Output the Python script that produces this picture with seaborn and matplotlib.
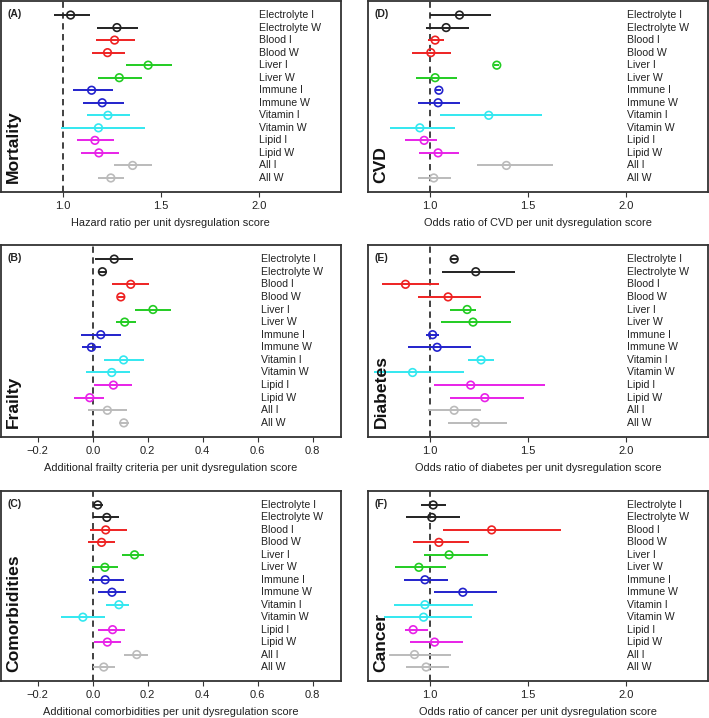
import numpy as np
import pandas as pd
import matplotlib
matplotlib.use("Agg")
import matplotlib.pyplot as plt
import seaborn as sns

categories = ["Electrolyte I", "Electrolyte W", "Blood I", "Blood W", "Liver I", "Liver W",
              "Immune I", "Immune W", "Vitamin I", "Vitamin W", "Lipid I", "Lipid W",
              "All I", "All W"]
groups = ["Electrolyte", "Electrolyte", "Blood", "Blood", "Liver", "Liver", "Immune", "Immune",
          "Vitamin", "Vitamin", "Lipid", "Lipid", "All", "All"]

# (A) Mortality
mort_est = [1.041, 1.277, 1.265, 1.229, 1.436, 1.289, 1.148, 1.202, 1.231, 1.183, 1.165, 1.185, 1.357, 1.246]
mort_lo = [0.956, 1.177, 1.170, 1.149, 1.321, 1.182, 1.051, 1.102, 1.126, 0.990, 1.075, 1.092, 1.261, 1.180]
mort_hi = [1.138, 1.384, 1.368, 1.316, 1.560, 1.404, 1.258, 1.311, 1.346, 1.418, 1.263, 1.287, 1.457, 1.314]
# (B) Frailty
frail_est = [0.078, 0.035, 0.138, 0.102, 0.219, 0.116, 0.029, -0.005, 0.112, 0.069, 0.075, -0.011, 0.053, 0.113]
frail_lo = [0.008, 0.019, 0.070, 0.093, 0.153, 0.084, -0.042, -0.040, 0.040, -0.025, 0.006, -0.067, -0.017, 0.097]
frail_hi = [0.148, 0.051, 0.205, 0.112, 0.285, 0.156, 0.101, 0.030, 0.187, 0.136, 0.142, 0.040, 0.126, 0.130]
# (C) Comorbidities
comor_est = [0.018, 0.051, 0.047, 0.032, 0.152, 0.044, 0.045, 0.070, 0.095, -0.036, 0.072, 0.053, 0.160, 0.040]
comor_lo = [0.002, 0.002, -0.010, -0.016, 0.107, -0.002, -0.015, 0.019, 0.047, -0.115, 0.018, 0.006, 0.113, 0.001]
comor_hi = [0.036, 0.097, 0.124, 0.080, 0.187, 0.093, 0.112, 0.121, 0.132, 0.044, 0.118, 0.101, 0.200, 0.082]
# (D) CVD
cvd_est = [1.151, 1.083, 1.027, 1.005, 1.341, 1.027, 1.046, 1.042, 1.300, 0.949, 0.971, 1.042, 1.390, 1.020]
cvd_lo = [1.000, 0.980, 0.990, 0.908, 1.327, 0.931, 1.032, 0.941, 1.054, 0.797, 0.876, 0.946, 1.239, 0.941]
cvd_hi = [1.312, 1.197, 1.073, 1.110, 1.354, 1.136, 1.059, 1.156, 1.571, 1.129, 1.039, 1.151, 1.625, 1.108]
# (E) Diabetes
diab_est = [1.124, 1.234, 0.876, 1.093, 1.190, 1.220, 1.014, 1.037, 1.261, 0.912, 1.208, 1.280, 1.124, 1.232]
diab_lo = [1.107, 1.064, 0.758, 0.942, 1.105, 1.058, 0.980, 0.890, 1.195, 0.715, 1.020, 1.105, 0.992, 1.090]
diab_hi = [1.141, 1.432, 1.049, 1.263, 1.237, 1.414, 1.049, 1.212, 1.327, 1.175, 1.588, 1.480, 1.263, 1.393]
# (F) Cancer
canc_est = [1.017, 1.010, 1.315, 1.046, 1.098, 0.944, 0.975, 1.168, 0.975, 0.968, 0.915, 1.024, 0.922, 0.981]
canc_lo = [0.953, 0.881, 1.066, 0.915, 0.968, 0.822, 0.868, 1.019, 0.815, 0.768, 0.873, 0.897, 0.793, 0.878]
canc_hi = [1.083, 1.153, 1.669, 1.197, 1.295, 1.080, 1.095, 1.344, 1.222, 1.214, 0.990, 1.168, 1.107, 1.100]

palette = {"Electrolyte": "#222222", "Blood": "#ee2222", "Liver": "#22cc22", "Immune": "#2222cc",
           "Vitamin": "#33e8f0", "Lipid": "#e822e8", "All": "#bbbbbb"}

panels = [
    ("(A)", "Mortality", "Hazard ratio per unit dysregulation score", mort_est, mort_lo, mort_hi, "ratio"),
    ("(B)", "Frailty", "Additional frailty criteria per unit dysregulation score", frail_est, frail_lo, frail_hi, "add"),
    ("(C)", "Comorbidities", "Additional comorbidities per unit dysregulation score", comor_est, comor_lo, comor_hi, "add"),
    ("(D)", "CVD", "Odds ratio of CVD per unit dysregulation score", cvd_est, cvd_lo, cvd_hi, "ratio"),
    ("(E)", "Diabetes", "Odds ratio of diabetes per unit dysregulation score", diab_est, diab_lo, diab_hi, "ratio"),
    ("(F)", "Cancer", "Odds ratio of cancer per unit dysregulation score", canc_est, canc_lo, canc_hi, "ratio"),
]

sns.set_theme(style="white")
plt.rcParams['font.family'] = ['Liberation Sans', 'DejaVu Sans']

fig = plt.figure(figsize=(7.09, 7.18), dpi=100)
W = 340 / 709
lefts = [0.001, 368 / 709]
rows = [(1, 192), (245, 437), (491, 681)]

for i, (tag, ylab, xlab, est, lo, hi, kind) in enumerate(panels):
    col = i // 3
    r = i % 3
    top, bot = rows[r]
    ax = fig.add_axes([lefts[col], 1 - bot / 718, W, (bot - top) / 718])
    df = pd.DataFrame({"cat": categories, "group": groups, "est": est, "lo": lo, "hi": hi,
                       "pos": np.arange(len(categories))})
    ref = 1.0 if kind == "ratio" else 0.0
    ax.axvline(ref, color="#333333", lw=1.3, ls=(0, (3.5, 2.5)), zorder=1)
    for _, row in df.iterrows():
        ax.hlines(row["pos"], row["lo"], row["hi"], color=palette[row["group"]], lw=1.4, zorder=2)
    sns.scatterplot(data=df, x="est", y="pos", hue="group", palette=palette, ax=ax,
                    marker="o", s=30, legend=False, zorder=3, linewidth=1.2)
    # make markers hollow
    for coll in ax.collections:
        fc = coll.get_facecolors()
        if len(fc):
            coll.set_edgecolors(fc)
            coll.set_facecolors("none")
    if kind == "ratio":
        ax.set_xlim(0.685, 2.417)
        ax.set_xticks([1.0, 1.5, 2.0])
        ax.set_xticklabels(["1.0", "1.5", "2.0"])
        lx = 2.003
    else:
        ax.set_xlim(-0.335, 0.902)
        ax.set_xticks([-0.2, 0.0, 0.2, 0.4, 0.6, 0.8])
        ax.set_xticklabels(["\u22120.2", "0.0", "0.2", "0.4", "0.6", "0.8"])
        lx = 0.612
    n = len(categories)
    ax.set_ylim(n - 1 + 1.12, -1.12)
    ax.set_yticks([])
    ax.set_ylabel("")
    for _, row in df.iterrows():
        ax.text(lx, row["pos"], row["cat"], ha="left", va="center", fontsize=7.6, color="#222222")
    ax.set_xlabel(xlab, fontsize=7.9, color="#222222", labelpad=5)
    ax.tick_params(axis="x", bottom=True, length=3.5, width=0.8, color="#333333",
                   labelsize=8, labelcolor="#222222", pad=3)
    for s in ax.spines.values():
        s.set_color("#333333")
        s.set_linewidth(1.3)
    ax.text(0.02, 0.93, tag, transform=ax.transAxes, fontsize=7.5, fontweight="bold",
            ha="left", va="center", color="#222222")
    ax.text(0.038, 0.045, ylab, transform=ax.transAxes, rotation=90, fontsize=12.6,
            fontweight="bold", ha="center", va="bottom", color="#111111")

fig.savefig("out.png", dpi=100)
